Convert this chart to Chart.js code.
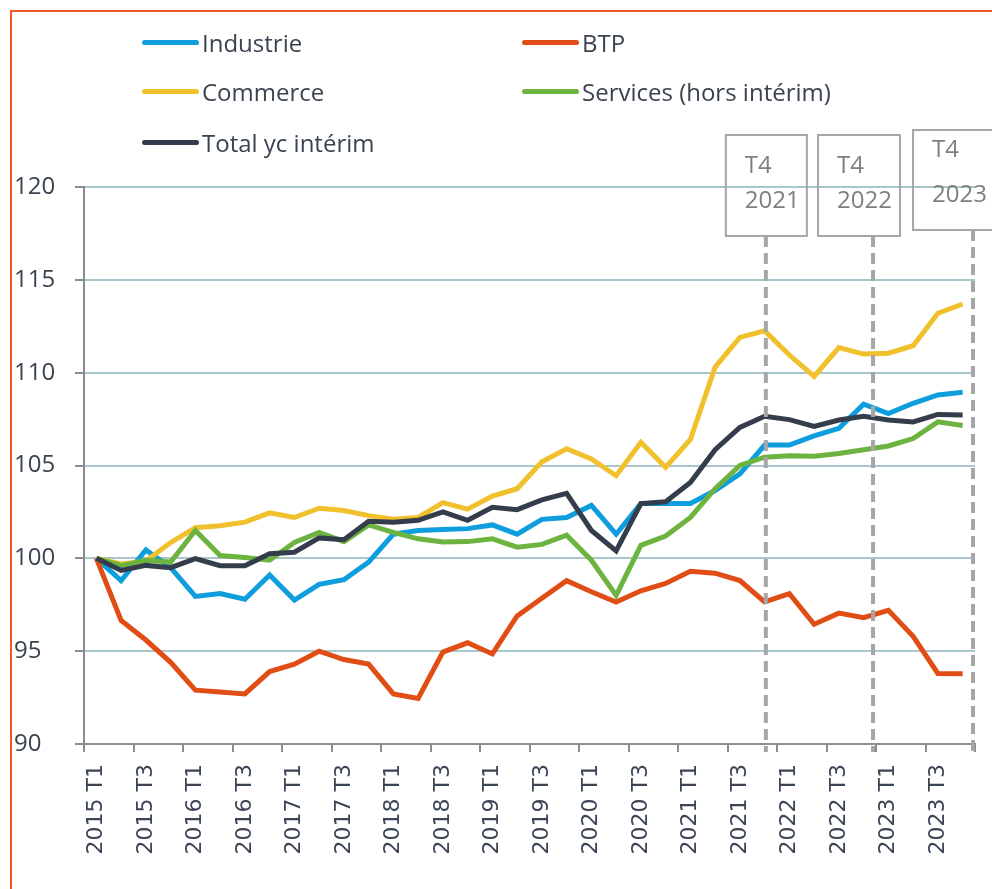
<!DOCTYPE html>
<html lang="fr">
<head>
<meta charset="utf-8">
<script src="https://cdn.jsdelivr.net/npm/chart.js@4.4.1/dist/chart.umd.min.js"></script>
<style>
  html, body { margin: 0; padding: 0; background: #fff; }
  #wrap { position: relative; width: 992px; height: 889px; overflow: hidden; }
  #cadre { position: absolute; left: 10px; top: 10px; width: 1000px; height: 900px;
           border-left: 2px solid #ee5a24; border-top: 2px solid #ee5a24; }
  canvas { position: absolute; left: 0; top: 0; }
  .leg { position: absolute; display: flex; align-items: center; height: 30px;
         font-family: "Open Sans", sans-serif; font-size: 24px; color: #3a4350; white-space: nowrap; }
  .leg span.trait { display: inline-block; width: 57px; height: 5px; border-radius: 3px; margin-right: 3px; }
</style>
</head>
<body>
<div id="wrap">
  <div id="cadre"></div>
  <canvas id="graphique" width="992" height="889"></canvas>
</div>
<script>
// Trimestres 2015 T1 -> 2023 T4
const trimestres = [
  '2015 T1', '2015 T2', '2015 T3', '2015 T4', '2016 T1', '2016 T2', '2016 T3', '2016 T4',
  '2017 T1', '2017 T2', '2017 T3', '2017 T4', '2018 T1', '2018 T2', '2018 T3', '2018 T4',
  '2019 T1', '2019 T2', '2019 T3', '2019 T4', '2020 T1', '2020 T2', '2020 T3', '2020 T4',
  '2021 T1', '2021 T2', '2021 T3', '2021 T4', '2022 T1', '2022 T2', '2022 T3', '2022 T4',
  '2023 T1', '2023 T2', '2023 T3', '2023 T4'
];

// Séries (base 100 en 2015 T1)
const industrie = [100, 98.8, 100.45, 99.5, 97.95, 98.1, 97.8, 99.1, 97.75, 98.6, 98.85, 99.8,
  101.3, 101.5, 101.55, 101.6, 101.8, 101.3, 102.1, 102.2, 102.85, 101.3, 102.95, 102.95,
  102.95, 103.65, 104.55, 106.1, 106.1, 106.6, 107.0, 108.3, 107.8, 108.35, 108.8, 108.95];
const btp = [100, 96.65, 95.6, 94.4, 92.9, 92.8, 92.7, 93.9, 94.3, 95.0, 94.55, 94.3,
  92.7, 92.45, 94.95, 95.45, 94.85, 96.9, 97.85, 98.8, 98.2, 97.65, 98.25, 98.65,
  99.3, 99.2, 98.8, 97.65, 98.1, 96.45, 97.05, 96.8, 97.2, 95.8, 93.8, 93.78];
const commerce = [100, 99.7, 99.85, 100.85, 101.65, 101.75, 101.95, 102.45, 102.2, 102.7, 102.58, 102.3,
  102.1, 102.2, 103.0, 102.65, 103.35, 103.75, 105.2, 105.9, 105.35, 104.45, 106.25, 104.9,
  106.4, 110.3, 111.9, 112.25, 110.95, 109.8, 111.35, 111.0, 111.05, 111.45, 113.2, 113.7];
const services = [100, 99.6, 99.9, 99.8, 101.5, 100.15, 100.05, 99.9, 100.85, 101.4, 100.9, 101.8,
  101.4, 101.05, 100.88, 100.9, 101.05, 100.6, 100.75, 101.25, 99.9, 98.0, 100.7, 101.2,
  102.2, 103.75, 105.0, 105.45, 105.53, 105.5, 105.65, 105.85, 106.05, 106.45, 107.35, 107.15];
const total = [100, 99.35, 99.62, 99.5, 99.98, 99.6, 99.6, 100.25, 100.33, 101.1, 101.0, 102.0,
  101.95, 102.05, 102.5, 102.05, 102.75, 102.62, 103.15, 103.5, 101.5, 100.4, 102.95, 103.05,
  104.08, 105.85, 107.05, 107.65, 107.47, 107.1, 107.45, 107.65, 107.45, 107.35, 107.75, 107.72];

const noms = ['Industrie', 'BTP', 'Commerce', 'Services (hors intérim)', 'Total yc intérim'];
const couleurs = ['#0e9ddd', '#e04e16', '#f0c12c', '#6db33f', '#343d4b'];
const series = [industrie, btp, commerce, services, total];

// Repères verticaux (fin d'année)
const reperes = [
  { at: 27.05, lignes: ['T4', '2021'], dx: -40, top: 135, w: 81, h: 101, t1: 38, t2: 73 },
  { at: 31.38, lignes: ['T4', '2022'], dx: -55, top: 135, w: 82, h: 101, t1: 38, t2: 73 },
  { at: 35.42, lignes: ['T4', '2023'], dx: -60, top: 130, w: 95, h: 100, t1: 27, t2: 72 }
];

// Légende HTML sur 2 colonnes
const posLegende = [[142, 27], [522, 27], [142, 76], [522, 76], [142, 127]];
noms.forEach((nom, i) => {
  const d = document.createElement('div');
  d.className = 'leg';
  d.style.left = posLegende[i][0] + 'px';
  d.style.top = posLegende[i][1] + 'px';
  d.innerHTML = '<span class="trait" style="background:' + couleurs[i] + '"></span>' + nom;
  document.getElementById('wrap').appendChild(d);
});

const pluginReperes = {
  id: 'reperes',
  afterDatasetsDraw(chart) {
    const ctx = chart.ctx;
    const x = chart.scales.x;
    const bas = chart.chartArea.bottom + 8;
    ctx.save();
    reperes.forEach(r => {
      const px = x.getPixelForValue(0) + r.at * (x.getPixelForValue(1) - x.getPixelForValue(0));
      ctx.strokeStyle = '#a6a6a6';
      ctx.lineWidth = 4;
      ctx.setLineDash([11, 6]);
      ctx.beginPath();
      ctx.moveTo(px, r.top + r.h);
      ctx.lineTo(px, bas);
      ctx.stroke();
      ctx.setLineDash([]);
      ctx.lineWidth = 2;
      ctx.strokeRect(px + r.dx, r.top, r.w, r.h);
      ctx.fillStyle = '#7f7f7f';
      ctx.font = '24px "Open Sans"';
      ctx.textBaseline = 'alphabetic';
      ctx.textAlign = 'left';
      ctx.fillText(r.lignes[0], px + r.dx + 19, r.top + r.t1);
      ctx.fillText(r.lignes[1], px + r.dx + 19, r.top + r.t2);
    });
    ctx.restore();
  }
};

new Chart(document.getElementById('graphique'), {
  type: 'line',
  data: {
    labels: trimestres,
    datasets: series.map((s, i) => ({
      label: noms[i],
      data: s,
      borderColor: couleurs[i],
      backgroundColor: couleurs[i],
      borderWidth: 5,
      pointRadius: 0,
      tension: 0,
      order: 4 - i
    }))
  },
  options: {
    responsive: false,
    animation: false,
    devicePixelRatio: 1,
    layout: { padding: { left: 14, top: 187, right: 17, bottom: 0 } },
    plugins: {
      legend: { display: false },
      tooltip: { enabled: false }
    },
    scales: {
      x: {
        offset: true,
        afterFit: s => { s.height = 145; s.paddingLeft = 0; s.paddingRight = 0; },
        grid: {
          offset: true,
          drawOnChartArea: false,
          tickLength: 8,
          lineWidth: 2,
          tickColor: c => (c.index === undefined || c.index % 2 === 0) ? '#8c8c8c' : 'rgba(0,0,0,0)'
        },
        border: { color: '#8c8c8c', width: 2 },
        ticks: {
          autoSkip: false,
          minRotation: 90,
          maxRotation: 90,
          padding: 12,
          color: '#3b4556',
          font: { family: 'DejaVu Sans', size: 22 },
          callback: function (v, i) { return i % 2 === 0 ? this.getLabelForValue(v) : ''; }
        }
      },
      y: {
        min: 90,
        max: 120,
        afterFit: s => { s.width = 70; },
        grid: { color: '#a9c6cc', lineWidth: 2, tickLength: 9, tickColor: '#8c8c8c' },
        border: { color: '#8c8c8c', width: 2 },
        ticks: {
          stepSize: 5,
          crossAlign: 'far',
          color: '#3a4350',
          font: { family: 'Open Sans', size: 24 }
        }
      }
    }
  },
  plugins: [pluginReperes]
});
</script>
</body>
</html>
